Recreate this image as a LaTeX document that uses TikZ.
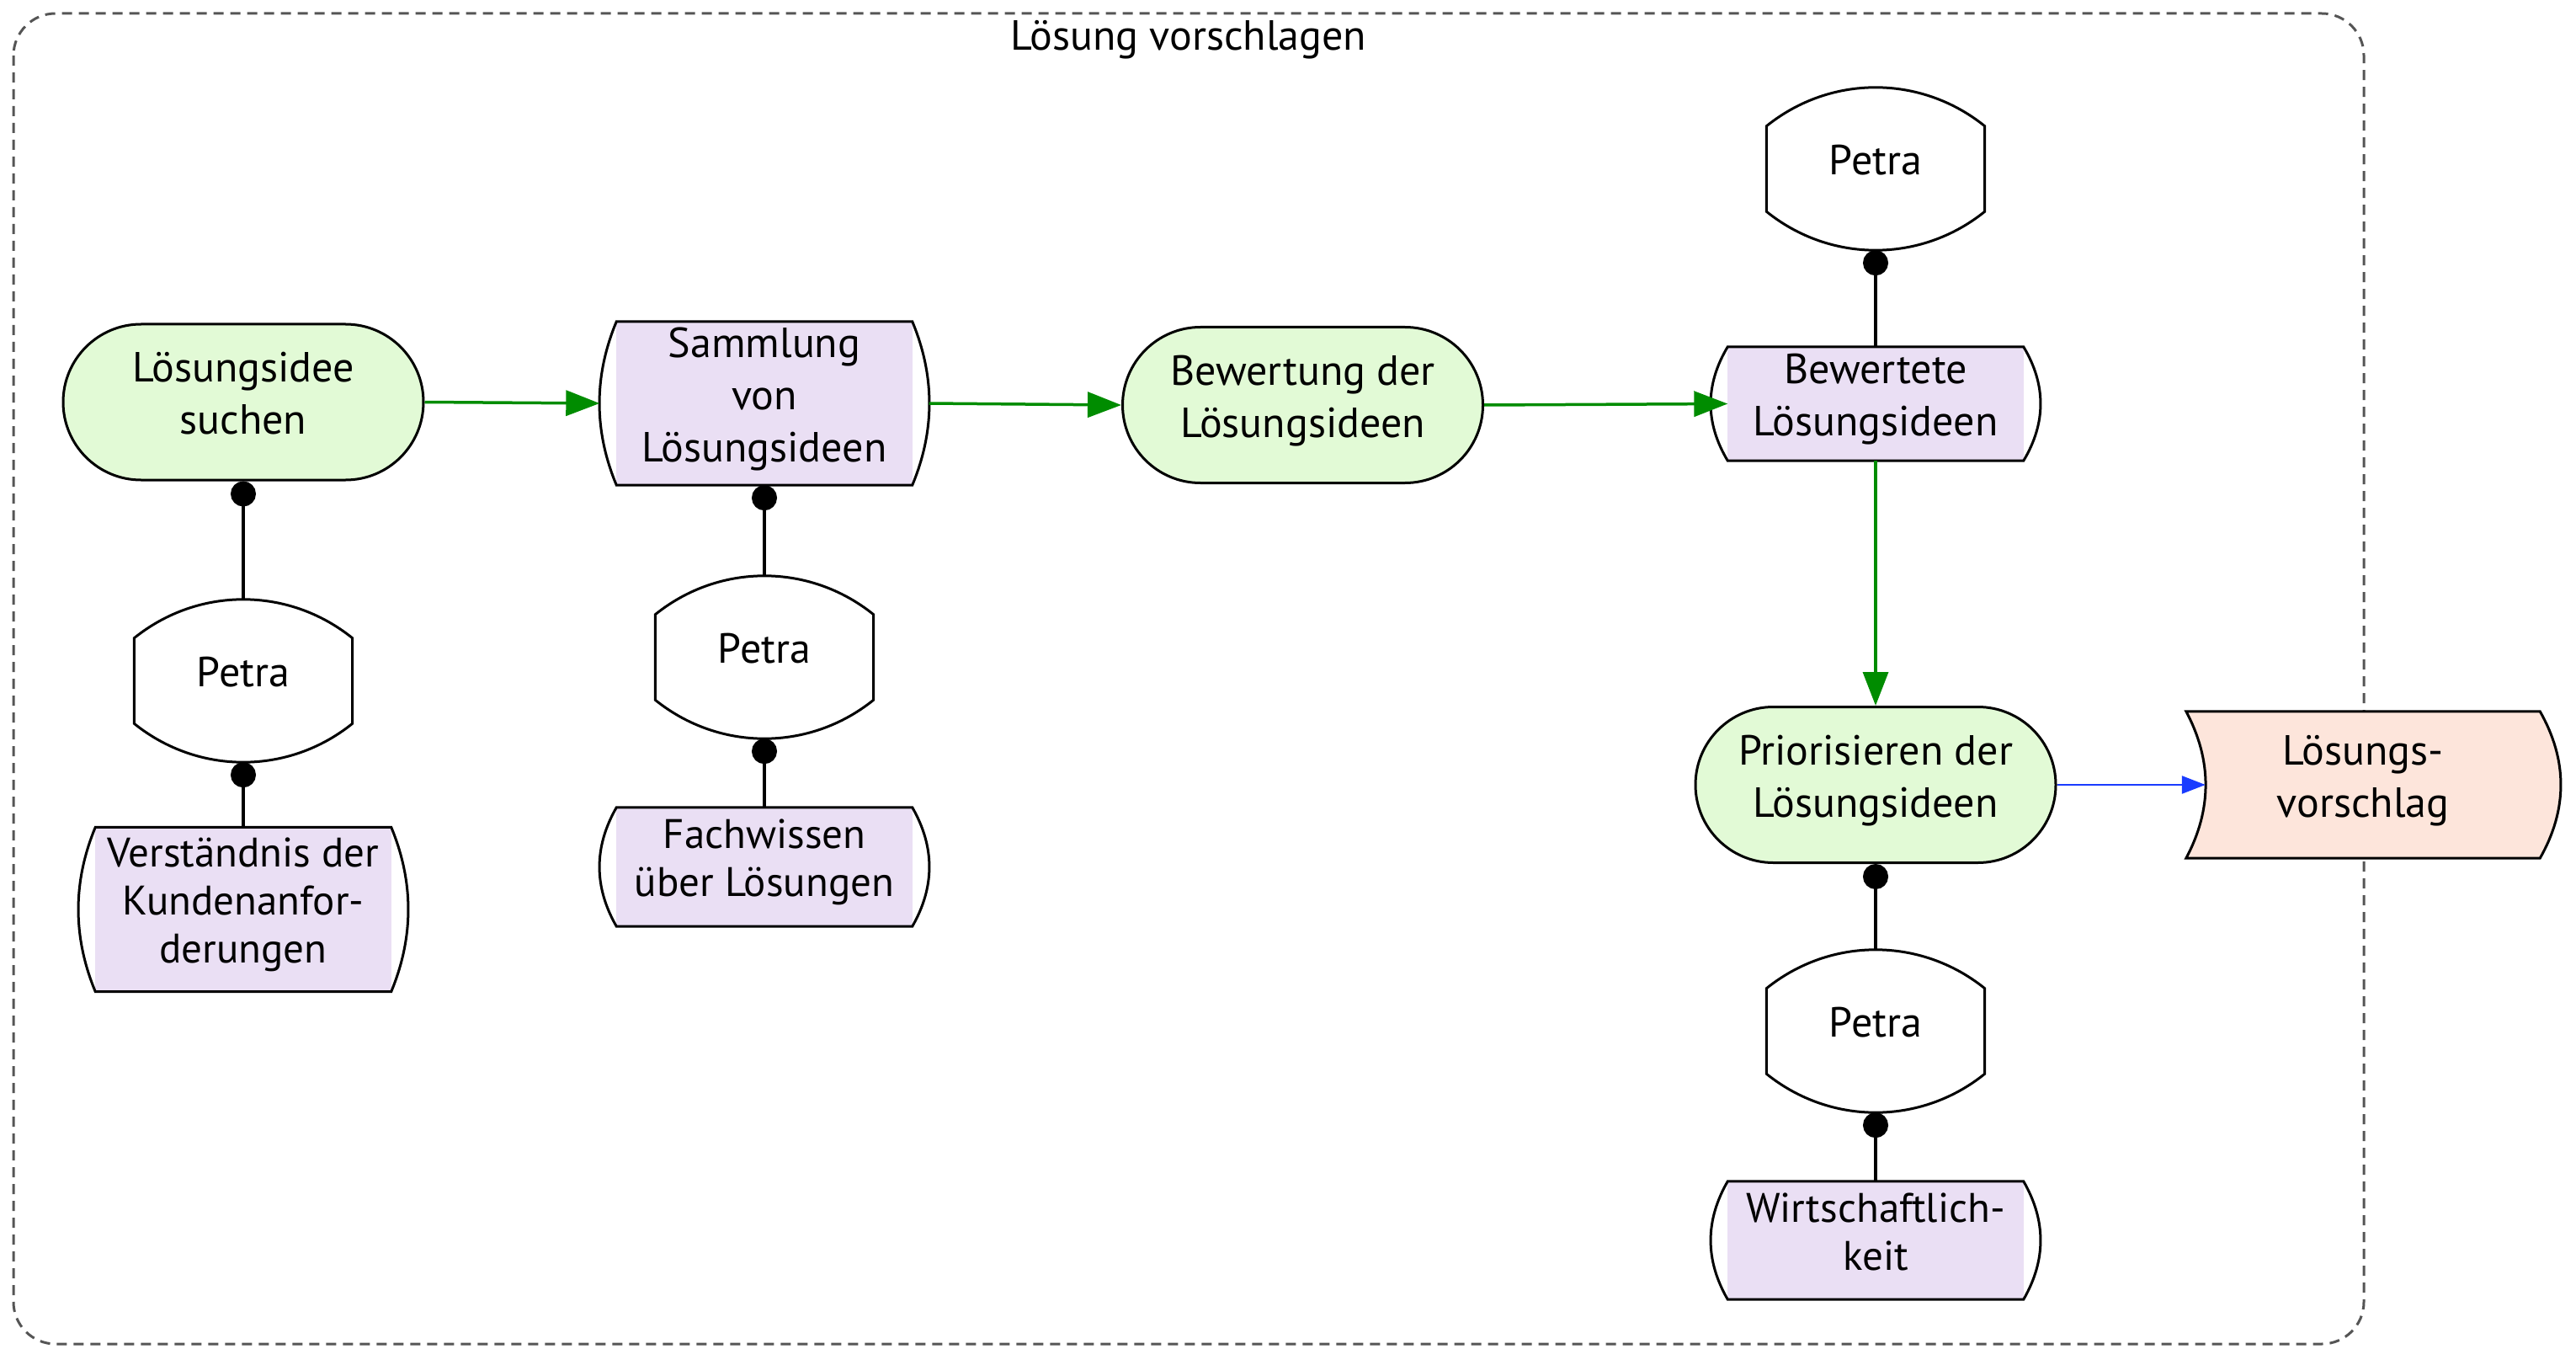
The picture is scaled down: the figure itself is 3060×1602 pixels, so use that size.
\documentclass[tikz,border=0pt]{standalone}
\usepackage{fontspec}
\setmainfont{PT Sans}
\usetikzlibrary{arrows.meta,shapes.misc,calc,backgrounds}
\definecolor{actfill}{HTML}{E2FAD6}
\definecolor{infofill}{HTML}{EADFF4}
\definecolor{outfill}{HTML}{FDE5DB}
\definecolor{flowgreen}{HTML}{008C00}
\definecolor{flowblue}{HTML}{1A3CFF}
\definecolor{framegray}{HTML}{555555}
\begin{document}
\begin{tikzpicture}[x=1pt,y=-1pt,
  txt/.style={font=\fontsize{50pt}{62pt}\selectfont, align=center, inner sep=0pt},
  ntxt/.style={txt, text depth=21pt},
  act/.style={ntxt, rounded rectangle, draw=black, line width=3pt, fill=actfill, minimum width=428pt, minimum height=185pt},
  info/.style={ntxt, rectangle, minimum width=351pt, font=\fontsize{49pt}{57pt}\selectfont},
  res/.style={ntxt, rectangle, minimum width=259pt, minimum height=193pt},
  outp/.style={ntxt, rectangle, minimum width=420pt, minimum height=174pt},
  flow/.style={draw=flowgreen, line width=3.5pt, -{Triangle[length=40pt,width=30pt]}},
  flowb/.style={draw=flowblue, line width=2.5pt, -{Triangle[length=28pt,width=21pt]}},
  assoc/.style={draw=black, line width=4pt, {Circle[length=30pt]}-},
  outline/.style={draw=black, line width=3pt},
  frame/.style={draw=framegray, line width=3pt, dash pattern=on 12pt off 8pt, rounded corners=50pt}
]
\useasboundingbox (0,0) rectangle (3060,1602);

% nodes
\node[txt, anchor=base] (T) at (1412,60) {Lösung vorschlagen};
\node[act] (LS) at (289,477.5) {Lösungsidee\\suchen};
\node[res] (P1) at (289,808.5) {Petra};
\node[info, minimum height=195pt] (VK) at (289,1080) {Verständnis der\\Kundenanfor-\\derungen};
\node[info, minimum height=194pt, font=\fontsize{50pt}{62pt}\selectfont] (SL) at (908,479) {Sammlung\\von\\Lösungsideen};
\node[res] (P2) at (908,780.5) {Petra};
\node[info, minimum height=141pt] (FW) at (908,1029.5) {Fachwissen\\über Lösungen};
\node[act] (BW) at (1547.5,481) {Bewertung der\\Lösungsideen};
\node[res] (P4) at (2228,200.5) {Petra};
\node[info, minimum height=135pt, font=\fontsize{50pt}{62pt}\selectfont] (BL) at (2228,479.5) {Bewertete\\Lösungsideen};
\node[act] (PR) at (2228,932) {Priorisieren der\\Lösungsideen};
\node[res] (P5) at (2228,1224.5) {Petra};
\node[info, minimum height=140pt] (WI) at (2228,1473) {Wirtschaftlich-\\keit};
\node[outp] (LV) at (2807,932) {Lösungs-\\vorschlag};

% shapes behind the texts
\begin{scope}[on background layer]
  \draw[frame] (16,16) rectangle (2808,1596);
  \foreach \n in {VK,SL,FW,BL,WI} {
    \fill[infofill] (\n.north west) rectangle (\n.south east);
    \draw[outline] (\n.north west) -- (\n.north east)
      .. controls ($(\n.north east)!0.333!(\n.south east)+(27,0)$) and ($(\n.north east)!0.667!(\n.south east)+(27,0)$) .. (\n.south east)
      -- (\n.south west)
      .. controls ($(\n.south west)!0.333!(\n.north west)+(-27,0)$) and ($(\n.south west)!0.667!(\n.north west)+(-27,0)$) .. (\n.north west) -- cycle;
  }
  \foreach \n in {P1,P2,P4,P5} {
    \draw[outline, fill=white] ($(\n.north west)+(0,46)$)
      .. controls ($(\n.north west)+(76,-15.3)$) and ($(\n.north east)+(-76,-15.3)$) .. ($(\n.north east)+(0,46)$)
      -- ($(\n.south east)+(0,-46)$)
      .. controls ($(\n.south east)+(-76,15.3)$) and ($(\n.south west)+(76,15.3)$) .. ($(\n.south west)+(0,-46)$)
      -- cycle;
  }
  \draw[outline, fill=outfill] (LV.north west) -- (LV.north east)
    .. controls ($(LV.north east)!0.333!(LV.south east)+(33,0)$) and ($(LV.north east)!0.667!(LV.south east)+(33,0)$) .. (LV.south east)
    -- (LV.south west)
    .. controls ($(LV.south west)!0.333!(LV.north west)+(31,0)$) and ($(LV.south west)!0.667!(LV.north west)+(31,0)$) .. (LV.north west) -- cycle;
\end{scope}

% connectors
\draw[flow] (LS.east) -- ($(SL.west)+(-20,0)$);
\draw[flow] ($(SL.east)+(20,0)$) -- (BW.west);
\draw[flow] (BW.east) -- (BL.west);
\draw[flow] (BL.south) -- (PR.north);
\draw[flowb] (PR.east) -- ($(LV.west)+(23,0)$);

\draw[assoc] (LS.south) -- (P1.north);
\draw[assoc] (P1.south) -- (VK.north);
\draw[assoc] (SL.south) -- (P2.north);
\draw[assoc] (P2.south) -- (FW.north);
\draw[assoc] (P4.south) -- (BL.north);
\draw[assoc] (PR.south) -- (P5.north);
\draw[assoc] (P5.south) -- (WI.north);
\end{tikzpicture}
\end{document}
